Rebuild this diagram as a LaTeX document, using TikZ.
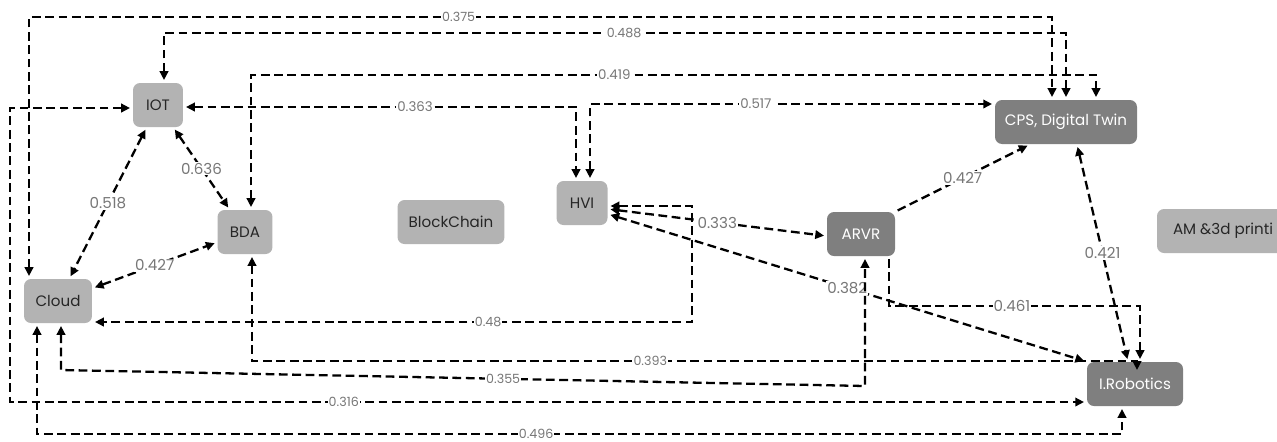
\documentclass[tikz,border=0pt]{standalone}
\usepackage{xcolor}
\usepackage{fontspec}
\setmainfont{Poppins}
\usepackage{tikz}
\usetikzlibrary{arrows.meta}
\usetikzlibrary{calc}

\definecolor{boxlite}{HTML}{B3B3B3}
\definecolor{boxdark}{HTML}{7F7F7F}
\definecolor{labgray}{HTML}{777777}

\tikzset{
  box/.style={rounded corners=0.14cm, minimum height=0.88cm, inner sep=0pt,
    font=\fontsize{8.6}{10}\selectfont},
  lite/.style={box, fill=boxlite, text=black!85},
  dark/.style={box, fill=boxdark, text=white},
  link/.style={line width=1.3pt, dash pattern=on 5pt off 2.6pt,
    >={Triangle[length=5pt,width=4.8pt]}, shorten >=1.5pt, shorten <=1.5pt},
  lab/.style={fill=white, text=labgray, inner sep=0.6pt, font=\fontsize{7.2}{8}\selectfont},
  labm/.style={lab, font=\fontsize{7.6}{8}\selectfont},
  labb/.style={lab, font=\fontsize{8.6}{9}\selectfont},
}

\begin{document}
\begin{tikzpicture}[x=0.02cm,y=-0.02cm]
        \useasboundingbox (0,0) rectangle (1277,441);
        \clip (0,0) rectangle (1277,441);

        % Drawing the boxes
        \node[lite, minimum width=1.0cm] (iot) at (158,105) {IOT};%
        \node[lite, minimum width=1.1cm] (bda) at (245,232) {BDA};%
        \node[lite, minimum width=1.36cm] (cld) at (58,301) {Cloud};%
        \node[lite, minimum width=2.14cm] (blk) at (451,222) {BlockChain};%
        \node[lite, minimum width=1.02cm] (hvi) at (582,203) {HVI};%
        \node[dark, minimum width=1.36cm] (arvr) at (861,234) {ARVR};%
        \node[dark, minimum width=2.84cm] (cps) at (1066,122) {CPS, Digital Twin};%
        \node[lite, minimum width=2.64cm] (am) at (1223,231) {AM \&3d printi};%
        \node[dark, minimum width=1.92cm] (rob) at (1135,384) {I.Robotics};%

        % Drawing links over the top
        \draw[link,<->] (29,0 |- cld.north) -- (29,17) -- node[lab,pos=0.42]{0.375} (1052,17) -- (1052,0 |- cps.north);%
        \draw[link,<->] (164,0 |- iot.north) -- (164,33) -- node[lab,pos=0.51]{0.488} (1066,33) -- (1066,0 |- cps.north);%
        \draw[link,<->] (251,0 |- bda.north) -- (251,75) -- node[labm,pos=0.43]{0.419} (1096,75) -- (1096,0 |- cps.north);%
        \draw[link,<->] (iot.east |- 0,107) -- node[labm,pos=0.59]{0.363} (576,107) -- (576,0 |- hvi.north);%
        \draw[link,<->] (590,0 |- hvi.north) -- (590,104) -- node[labm,pos=0.41]{0.517} (cps.west |- 0,104);%

        % Drawing the triangle IOT BDA Cloud
        \draw[link,<->] (iot) -- node[labb]{0.636} (bda);%
        \draw[link,<->] (iot) -- node[labb]{0.518} (cld);%
        \draw[link,<->] (cld) -- node[labb]{0.427} (bda);%

        % Drawing links out of HVI
        \draw[link,<->] (hvi.east |- 0,206) -- (692,206) -- (692,322) -- node[lab,pos=0.34]{0.48} (cld.east |- 0,322);%
        \draw[link,<->] (hvi.east |- 0,209) -- node[labb]{0.333} (arvr.west |- 0,236);%
        \draw[link,<->] (hvi.east |- 0,214) -- node[labb]{0.382} (rob.north west);%

        % Drawing links of ARVR and CPS
        \draw[link,->] (arvr.north east) -- node[labb]{0.427} (1030,0 |- cps.south);%
        \draw[link,<->] (1077,0 |- cps.south) -- node[labb]{0.421} (1128,0 |- rob.north);%
        \draw[link,->] (889,0 |- arvr.south) -- (889,306) -- node[labb,pos=0.49]{0.461} (1140,306) -- (1140,0 |- rob.north);%

        % Drawing links under the boxes
        \draw[link,<->,shorten >=0pt] (252,0 |- bda.south) -- (252,361) -- node[lab,pos=0.45]{0.393} (1137,361) -- (1137,370);%
        \draw[link,<->] (61,0 |- cld.south) -- (61,370) -- node[lab,pos=0.55]{0.355} (865,386) -- (865,0 |- arvr.south);%
        \draw[link,<->] (iot.west |- 0,108) -- (10,108) -- (10,402) -- node[lab,pos=0.31]{0.316} (rob.west |- 0,402);%
        \draw[link,<->] (37,0 |- cld.south) -- (37,434) -- node[lab,pos=0.46]{0.496} (1122,434) -- (1122,0 |- rob.south);%
\end{tikzpicture}
\end{document}
